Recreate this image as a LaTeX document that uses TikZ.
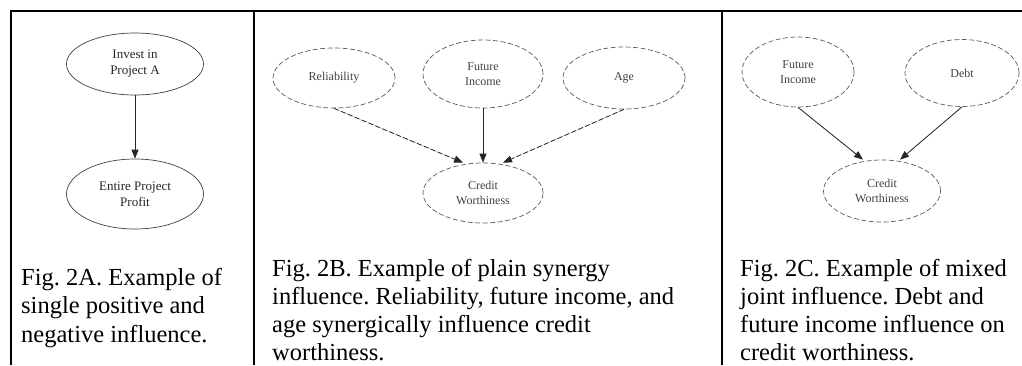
\documentclass[tikz,border=0pt]{standalone}
\usepackage{fontspec}
\setmainfont{Liberation Serif}
\usetikzlibrary{shapes.geometric,arrows.meta}
\begin{document}
\frenchspacing
\begin{tikzpicture}[x=1pt,y=-1pt,
  frame/.style={line width=2pt,black},
  plainell/.style={ellipse,draw=black!75,line width=0.7pt,inner sep=0pt,
    font=\fontsize{13}{16}\selectfont,text=black!85,align=center},
  dashell/.style={ellipse,draw=black!65,line width=0.7pt,dash pattern=on 5pt off 2.5pt,
    inner sep=0pt,font=\fontsize{12}{14.5}\selectfont,text=black!75,align=center},
  arr/.style={-{Triangle[length=9pt,width=7pt]},line width=0.8pt,draw=black!85,fill=black!85},
  darr/.style={arr,dash pattern=on 5pt off 2.5pt},
  captext/.style={anchor=north west,inner sep=0pt,align=left,
    font=\fontsize{24.5}{28.5}\selectfont},
  captextb/.style={captext,font=\fontsize{24.5}{28}\selectfont}
]
\useasboundingbox (0,0) rectangle (1022,365);

% table rules
\draw[frame] (10,11) -- (1022,11);
\draw[frame] (11,10) -- (11,365);
\draw[frame] (254,10) -- (254,365);
\draw[frame] (722,10) -- (722,365);

% Panel A
\node[plainell,minimum width=137pt,minimum height=62pt] (inv) at (135,64) {Invest in\\Project A};
\node[plainell,minimum width=137pt,minimum height=70pt] (ent) at (135,194) {Entire Project\\Profit};
\draw[arr] (inv.south) -- (ent.north);

% Panel B
\node[dashell,minimum width=122pt,minimum height=60pt] (rel) at (334,78) {Reliability};
\node[dashell,minimum width=120pt,minimum height=68pt] (fi) at (483,74) {Future\\Income};
\node[dashell,minimum width=122pt,minimum height=62pt] (age) at (624,78) {Age};
\node[dashell,minimum width=120pt,minimum height=60pt] (cw) at (483,193) {Credit\\Worthiness};
\draw[darr] (rel.south) -- ([xshift=-20pt]cw.north);
\draw[arr] (fi.south) -- (cw.north);
\draw[darr] (age.south) -- ([xshift=20pt]cw.north);

% Panel C
\node[dashell,minimum width=112pt,minimum height=70pt] (fic) at (798,72) {Future\\Income};
\node[dashell,minimum width=114pt,minimum height=67pt] (debt) at (962,73) {Debt};
\node[dashell,minimum width=117pt,minimum height=62pt] (cwc) at (882,191) {Credit\\Worthiness};
\draw[arr] (fic.south) -- ([xshift=-19pt]cwc.north);
\draw[arr] (debt.south) -- ([xshift=18pt]cwc.north);

% Captions
\node[captext] (capA) at (21,265.05) {\strut Fig. 2A. Example of\\single positive and\\negative influence.};
\node[captextb] (capB) at (272,256.4) {\strut Fig. 2B. Example of plain synergy\\influence. Reliability, future income, and\\age synergically influence credit\\worthiness.};
\node[captextb] (capC) at (740,256.4) {\strut Fig. 2C. Example of mixed\\joint influence. Debt and\\future income influence on\\credit worthiness.};
\end{tikzpicture}
\end{document}
